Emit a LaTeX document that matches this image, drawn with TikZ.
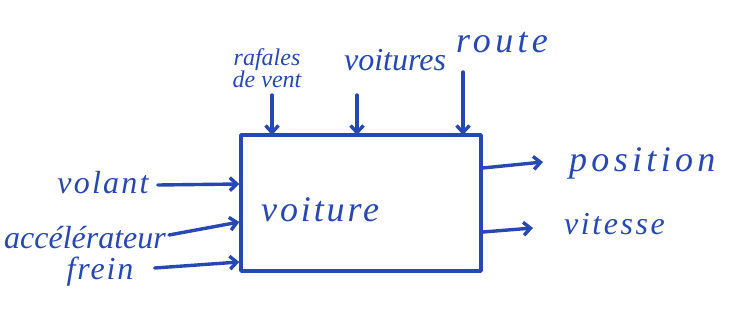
\documentclass[tikz,border=0pt]{standalone}
\usepackage{fontspec}
\setmainfont{Liberation Serif}
\usetikzlibrary{arrows.meta}
\definecolor{ink}{RGB}{38,72,182}
\newcommand{\spaced}[1]{\addfontfeature{LetterSpace=#1}}
\tikzset{
  pen/.style={draw=ink, line width=3.4pt, line cap=round, line join=round},
  flow/.style={pen, -{Straight Barb[length=7pt,width=13pt]}},
  lbl/.style={text=ink, font=\itshape\fontsize{32}{34}\selectfont, inner sep=1pt},
  biglbl/.style={text=ink, font=\itshape\fontsize{36}{38}\selectfont, inner sep=1pt},
  sublbl/.style={text=ink, font=\itshape\fontsize{24}{22}\selectfont, inner sep=1pt, align=center}
}
\begin{document}
\begin{tikzpicture}[x=1pt,y=-1pt]
  \useasboundingbox (0,0) rectangle (731,326);
  % central block
  \node[pen, minimum width=240pt, minimum height=136pt, inner sep=0pt] (car) at (361,203) {};
  \node[biglbl, anchor=west] (cartext) at (260,210) {\spaced{8}voiture};
  % disturbances from the top
  \node[sublbl] (wind) at (267,68) {rafales\\de vent};
  \node[lbl] (cars) at (395,60) {voitures};
  \node[biglbl] (road) at (502,43) {\spaced{12}route};
  \coordinate (windin) at (272,135);
  \coordinate (carsin) at (357,135);
  \coordinate (roadin) at (463,135);
  \draw[flow] (272,95) -- (windin);
  \draw[flow] (357,95) -- (carsin);
  \draw[flow] (463,72) -- (roadin);
  % commands on the left
  \node[lbl] (wheel) at (103,183) {\spaced{7}volant};
  \node[lbl] (accel) at (85,238) {accélérateur};
  \node[lbl] (brake) at (100,272) {\spaced{6}frein};
  \draw[flow] (wheel.east) ++(8,2) -- (car.west |- 0,184);
  \draw[flow] (accel.east) ++(2,-3) -- (car.west |- 0,222);
  \draw[flow] (brake.east) ++(20,-4) -- (car.west |- 0,262);
  % outputs on the right
  \node[biglbl, anchor=west] (pos) at (568,163) {\spaced{12}position};
  \node[lbl, anchor=west] (speed) at (563,224) {\spaced{8}vitesse};
  \draw[flow] (car.east |- 0,168) -- (543,162);
  \draw[flow] (car.east |- 0,232) -- (533,228);
\end{tikzpicture}
\end{document}
